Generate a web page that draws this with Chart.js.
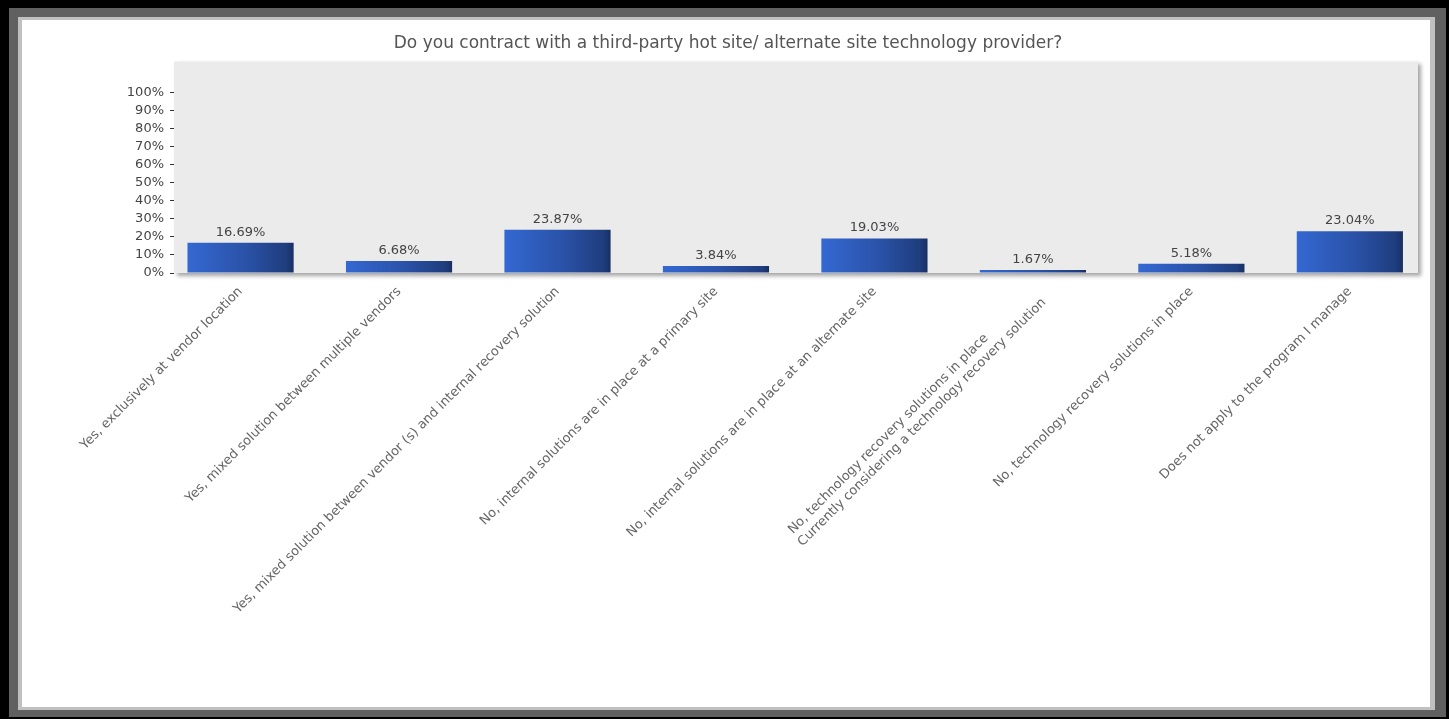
<!DOCTYPE html>
<html>
<head>
<meta charset="utf-8">
<script src="https://cdn.jsdelivr.net/npm/chart.js@4"></script>
<style>
    html, body { margin: 0; padding: 0; width: 1449px; height: 719px; background: #000; overflow: hidden; }
    .frame-dark  { position: absolute; left: 9px; top: 8px; right: 3px; bottom: 2px; background: #606060; }
    .frame-light { position: absolute; left: 18px; top: 17px; right: 14px; bottom: 9px; background: #c0c0c0; }
    .frame-white { position: absolute; left: 22px; top: 20px; right: 19px; bottom: 12px; background: #fff; }
    canvas { display: block; }
</style>
</head>
<body>
<div class="frame-dark"></div>
<div class="frame-light"></div>
<div class="frame-white"><canvas id="chart"></canvas></div>

<script>
// ════════════════════════════════════════
// DATA
// ════════════════════════════════════════

const TITLE = 'Do you contract with a third-party hot site/ alternate site technology provider?';

const categories = [
    'Yes, exclusively at vendor location',
    'Yes, mixed solution between multiple vendors',
    'Yes, mixed solution between vendor (s) and internal recovery solution',
    'No, internal solutions are in place at a primary site',
    'No, internal solutions are in place at an alternate site',
    ['No, technology recovery solutions in place', 'Currently considering a technology recovery solution'],
    'No, technology recovery solutions in place',
    'Does not apply to the program I manage',
];

const values = [16.69, 6.68, 23.87, 3.84, 19.03, 1.67, 5.18, 23.04];

const yTicks = [0, 10, 20, 30, 40, 50, 60, 70, 80, 90, 100];

// ════════════════════════════════════════
// STYLE
// ════════════════════════════════════════

const FONT = "'DejaVu Sans', sans-serif";
const LABEL_FONT = `13px ${FONT}`;
const TEXT = '#555555';
const BAR_PCT = 0.67;

// rotated multi-line labels are left-aligned in the original:
// pad shorter lines with trailing spaces so right alignment lines them up on the left
const measureCtx = document.createElement('canvas').getContext('2d');
measureCtx.font = LABEL_FONT;
function leftAlignLines(label) {
    if (!Array.isArray(label)) return label;
    const widest = Math.max(...label.map(l => measureCtx.measureText(l).width));
    return label.map(l => {
        let s = l;
        while (measureCtx.measureText(s + ' ').width <= widest + 2) s += ' ';
        return s;
    });
}
const tickLabels = categories.map(leftAlignLines);

// gray plot background with a soft drop shadow
const plotBackground = {
    id: 'plotBackground',
    beforeDraw(chart) {
        const { ctx, chartArea: a } = chart;
        ctx.save();
        ctx.shadowColor = 'rgba(0,0,0,0.35)';
        ctx.shadowBlur = 4;
        ctx.shadowOffsetX = 3;
        ctx.shadowOffsetY = 3;
        ctx.fillStyle = '#ebebeb';
        ctx.fillRect(a.left, a.top, a.right - a.left, a.bottom - a.top);
        ctx.restore();
    }
};

// value labels above each bar
const valueLabels = {
    id: 'valueLabels',
    afterDatasetsDraw(chart) {
        const { ctx } = chart;
        const meta = chart.getDatasetMeta(0);
        ctx.save();
        ctx.font = `13px ${FONT}`;
        ctx.fillStyle = '#444';
        ctx.textAlign = 'center';
        ctx.textBaseline = 'bottom';
        meta.data.forEach((bar, i) => {
            ctx.fillText(values[i].toFixed(2) + '%', bar.x, bar.y - 4);
        });
        ctx.restore();
    }
};

function barGradient(c) {
    const chart = c.chart;
    const x = chart.scales.x;
    if (!x || !chart.chartArea) return '#2d57b0';
    const center = x.getPixelForValue(c.dataIndex);
    const half = Math.abs(x.getPixelForValue(1) - x.getPixelForValue(0)) * BAR_PCT / 2;
    const g = chart.ctx.createLinearGradient(center - half, 0, center + half, 0);
    g.addColorStop(0, '#3468d2');
    g.addColorStop(0.55, '#2a52a8');
    g.addColorStop(0.93, '#1f3d7e');
    g.addColorStop(1, '#182f62');
    return g;
}

// ════════════════════════════════════════
// CHART
// ════════════════════════════════════════

const canvas = document.getElementById('chart');
canvas.width = 1408;
canvas.height = 687;

new Chart(canvas, {
    type: 'bar',
    data: {
        datasets: [{
            data: values.map((v, i) => ({ x: i, y: v })),
            backgroundColor: barGradient,
            borderWidth: 0,
            barPercentage: BAR_PCT,
            categoryPercentage: 1,
        }]
    },
    options: {
        responsive: false,
        animation: false,
        devicePixelRatio: 1,
        layout: { padding: { left: 16, right: 12, top: 0, bottom: 0 } },
        plugins: {
            legend: { display: false },
            tooltip: { enabled: false },
            title: {
                display: true,
                text: TITLE,
                color: TEXT,
                font: { family: FONT, size: 17, weight: 'normal' },
                padding: { top: 13, bottom: 8 },
            },
        },
        scales: {
            x: {
                type: 'linear',
                offset: false,
                min: -0.42,
                max: 7.43,
                afterBuildTicks: s => { s.ticks = categories.map((_, i) => ({ value: i })); },
                afterFit: s => { s.height = 434; },
                grid: { display: false, offset: false },
                border: { display: false },
                ticks: {
                    autoSkip: false,
                    maxRotation: 45,
                    minRotation: 45,
                    padding: 3,
                    color: '#666',
                    font: { family: FONT, size: 13 },
                    callback: v => tickLabels[v],
                },
            },
            y: {
                min: 0,
                max: 117,
                afterBuildTicks: s => { s.ticks = yTicks.map(v => ({ value: v })); },
                afterFit: s => { s.width = 136; },
                grid: { drawOnChartArea: false, drawTicks: true, tickLength: 4, color: '#333', tickWidth: 1 },
                border: { display: false },
                ticks: {
                    padding: 6,
                    color: '#444',
                    font: { family: FONT, size: 13 },
                    callback: v => v + '%',
                },
            },
        },
    },
    plugins: [plotBackground, valueLabels],
});
</script>
</body>
</html>
